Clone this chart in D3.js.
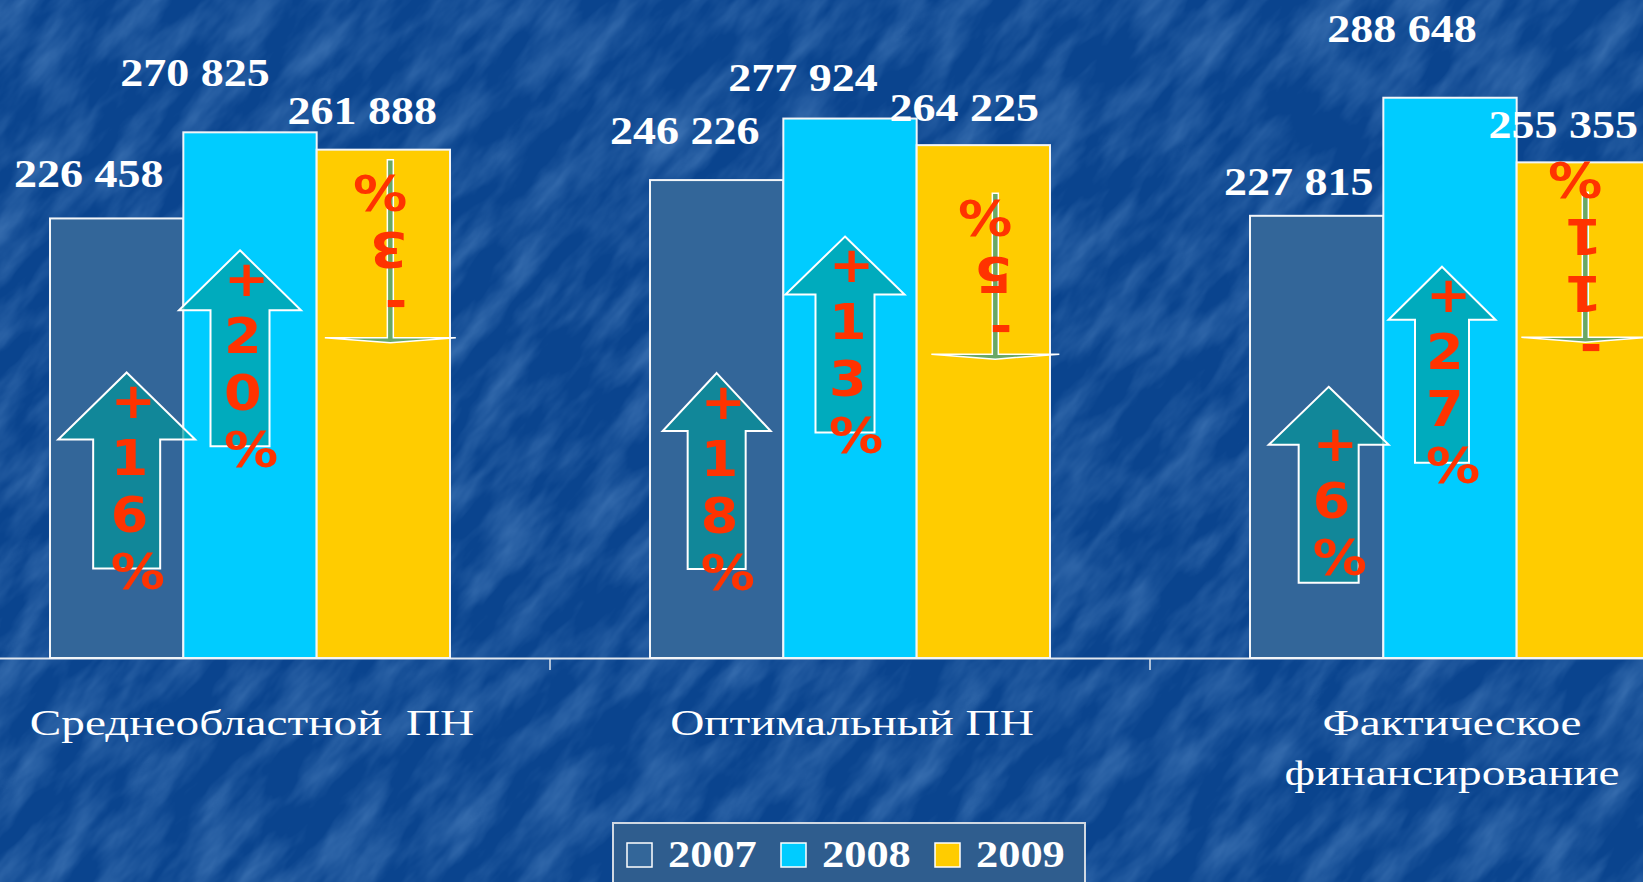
<!DOCTYPE html>
<html><head><meta charset="utf-8">
<script src="https://cdn.jsdelivr.net/npm/d3@7"></script>
<style>html,body{margin:0;padding:0;overflow:hidden;background:#0c468c}</style>
</head><body>
<svg id="chart" width="1643" height="882"></svg>
<script>
// ---------- data ----------
const categories = ["Среднеобластной  ПН", "Оптимальный ПН", "Фактическое финансирование"];
const categoryLines = [["Среднеобластной  ПН"], ["Оптимальный ПН"], ["Фактическое", "финансирование"]];
const years = ["2007", "2008", "2009"];
const values2007 = [226458, 246226, 227815];
const values2008 = [270825, 277924, 288648];
const values2009 = [261888, 264225, 255355];
const change2007 = ["+16%", "+18%", "+6%"];
const change2008 = ["+20%", "+13%", "+27%"];
const change2009 = ["-3%", "-5%", "-11%"];

// ---------- layout (annotation offsets, px) ----------
const labelDx = [[-28, -32, -18], [-55, -47, -48], [-21, -19, -20]];
const labelDy = [[31, 36, 21], [46, 28, 56], [26, 24, 24]];
// up arrows: [dx, tip below bar top, head width, shaft width, head height]
const upLayout = [
  [[10, 154, 137, 67, 67], [0, 193, 108, 58, 58], [12, 171, 120, 60, 58]],
  [[-10, 118, 122, 59, 60], [-5, 118, 119, 59, 58], [-8, 169, 107, 54, 53]]
];
// down arrows: [dx, shaft top below bar top, head below bar top, head width]
const downLayout = [[7, 10, 188, 131], [12, 48, 209, 128], [2, 30, 175, 128]];

const W = 1643, H = 882;
const svg = d3.select("#chart");
const defs = svg.append("defs");
const f = defs.append("filter").attr("id", "tex").attr("x", 0).attr("y", 0).attr("width", "100%").attr("height", "100%");
f.append("feTurbulence").attr("type", "fractalNoise").attr("baseFrequency", "0.012 0.035").attr("numOctaves", 4).attr("seed", 11);
f.append("feColorMatrix").attr("type", "matrix")
  .attr("values", "0 0 0 0 0.3  0 0 0 0 0.55  0 0 0 0 0.9  0.6 0 0 0 -0.22");

svg.append("rect").attr("width", W).attr("height", H).attr("fill", "#0a448e");
svg.append("g").attr("transform", "rotate(-50 821 441)")
  .append("rect").attr("x", -700).attr("y", -700).attr("width", 3000).attr("height", 2300)
  .attr("filter", "url(#tex)");

// ---------- scales ----------
const x0 = d3.scaleBand().domain(categories).range([-50, 1750]).paddingInner(1 / 3).paddingOuter(1 / 6);
const x1 = d3.scaleBand().domain(years).range([0, x0.bandwidth()]);
const y = d3.scaleLinear().domain([0, 339000]).range([658, 0]);
const color = d3.scaleOrdinal().domain(years).range(["#336699", "#00ccff", "#ffcc00"]);
const seriesValues = [values2007, values2008, values2009];
const fmt = d3.formatLocale({decimal: ".", thousands: " ", grouping: [3], currency: ["", ""]}).format(",");

const rows = [];
categories.forEach((c, ci) => years.forEach((yr, si) => rows.push({c, ci, yr, si, v: seriesValues[si][ci]})));
const bx = d => x0(d.c) + x1(d.yr);
const bcx = d => bx(d) + x1.bandwidth() / 2;

// ---------- axis ----------
const axis = svg.append("g").attr("transform", `translate(0,${y(0)})`)
  .call(d3.axisBottom(x0).tickSize(0).tickSizeOuter(0).tickFormat(() => ""));
axis.select(".domain").attr("stroke", "#dfe6ee").attr("stroke-width", 2);
const bounds = categories.slice(1).map(c => x0(c) - x0.step() * x0.paddingInner() / 2);
svg.append("g").selectAll("line").data(bounds).join("line")
  .attr("x1", d => d).attr("x2", d => d).attr("y1", y(0)).attr("y2", y(0) + 12)
  .attr("stroke", "#dfe6ee").attr("stroke-width", 1.5);

// ---------- bars ----------
svg.append("g").selectAll("rect").data(rows).join("rect")
  .attr("x", bx).attr("y", d => y(d.v))
  .attr("width", x1.bandwidth()).attr("height", d => y(0) - y(d.v))
  .attr("fill", d => color(d.yr)).attr("stroke", "#f2f5f8").attr("stroke-width", 2);

// ---------- arrows ----------
const RED = "#ff3300";
const LH = 57;
function stacked(g, str, x, mid) {
  const chars = str.split("");
  const first = mid - (chars.length - 1) * LH / 2;
  g.selectAll("text").data(chars).join("text")
    .attr("transform", (d, i) => `translate(${x},${first + i * LH + 18}) scale(1.08,1)`)
    .attr("fill", RED).attr("font-family", "DejaVu Sans").attr("font-weight", "bold")
    .attr("font-size", 50).text(d => d);
}
const upChanges = [change2007, change2008];
const arrowG = svg.append("g");
rows.filter(d => d.si < 2).forEach(d => {
  const [dx, tb, hw, sw, hh] = upLayout[d.si][d.ci];
  const cx = bcx(d) + dx, ty = y(d.v) + tb, h = 196;
  const p = d3.path();
  p.moveTo(cx, ty); p.lineTo(cx + hw / 2, ty + hh); p.lineTo(cx + sw / 2, ty + hh);
  p.lineTo(cx + sw / 2, ty + h); p.lineTo(cx - sw / 2, ty + h); p.lineTo(cx - sw / 2, ty + hh);
  p.lineTo(cx - hw / 2, ty + hh); p.closePath();
  arrowG.append("path").attr("d", p.toString()).attr("fill", "#009999").attr("fill-opacity", 0.65)
    .attr("stroke", "#ffffff").attr("stroke-width", 2);
  stacked(arrowG.append("g"), upChanges[d.si][d.ci], cx - 16, ty + h / 2 + 15);
});
rows.filter(d => d.si === 2).forEach(d => {
  const [dx, tt, th, hw] = downLayout[d.ci];
  const lx = bcx(d) + dx, top = y(d.v) + tt, hy = y(d.v) + th;
  const p = d3.path();
  p.moveTo(lx - 3, top); p.lineTo(lx + 3, top); p.lineTo(lx + 3, hy); p.lineTo(lx + hw / 2, hy);
  p.lineTo(lx, hy + 5); p.lineTo(lx - hw / 2, hy); p.lineTo(lx - 3, hy); p.closePath();
  arrowG.append("path").attr("d", p.toString()).attr("fill", "#6aa864")
    .attr("stroke", "#ffffff").attr("stroke-width", 1.5);
  const mid = (top + hy) / 2 + 1;
  stacked(arrowG.append("g").attr("transform", `rotate(180 ${lx} ${mid})`), change2009[d.ci], lx - 17, mid);
});

// ---------- value labels ----------
svg.append("g").selectAll("text").data(rows).join("text")
  .attr("transform", d => `translate(${bcx(d) + labelDx[d.si][d.ci]},${y(d.v) - labelDy[d.si][d.ci]}) scale(1.15,1)`)
  .attr("text-anchor", "middle").attr("fill", "#ffffff")
  .attr("font-family", "Liberation Serif").attr("font-weight", "bold").attr("font-size", 40)
  .text(d => fmt(d.v));

// ---------- category labels ----------
const catG = svg.append("g").selectAll("g").data(categories).join("g");
catG.each(function (c, ci) {
  d3.select(this).selectAll("text").data(categoryLines[ci]).join("text")
    .attr("transform", (t, i) => `translate(${x0(c) + x0.bandwidth() / 2 + 2},${735 + i * 50}) scale(1.35,1)`)
    .attr("text-anchor", "middle").attr("fill", "#ffffff").style("white-space", "pre")
    .attr("font-family", "Liberation Serif").attr("font-size", 35).text(t => t);
});

// ---------- legend ----------
const lg = svg.append("g");
lg.append("rect").attr("x", 613).attr("y", 823).attr("width", 472).attr("height", 80)
  .attr("fill", "#2f5d8e").attr("stroke", "#d0d8e2").attr("stroke-width", 2);
const li = lg.selectAll("g").data(years).join("g").attr("transform", (d, i) => `translate(${627 + i * 154},843)`);
li.append("rect").attr("width", 25).attr("height", 24).attr("fill", d => color(d))
  .attr("stroke", "#ffffff").attr("stroke-width", 1.5);
li.append("text").attr("transform", "translate(41,24) scale(1.2,1)").attr("fill", "#ffffff")
  .attr("font-family", "Liberation Serif").attr("font-weight", "bold").attr("font-size", 37).text(d => d);
</script>
</body></html>
